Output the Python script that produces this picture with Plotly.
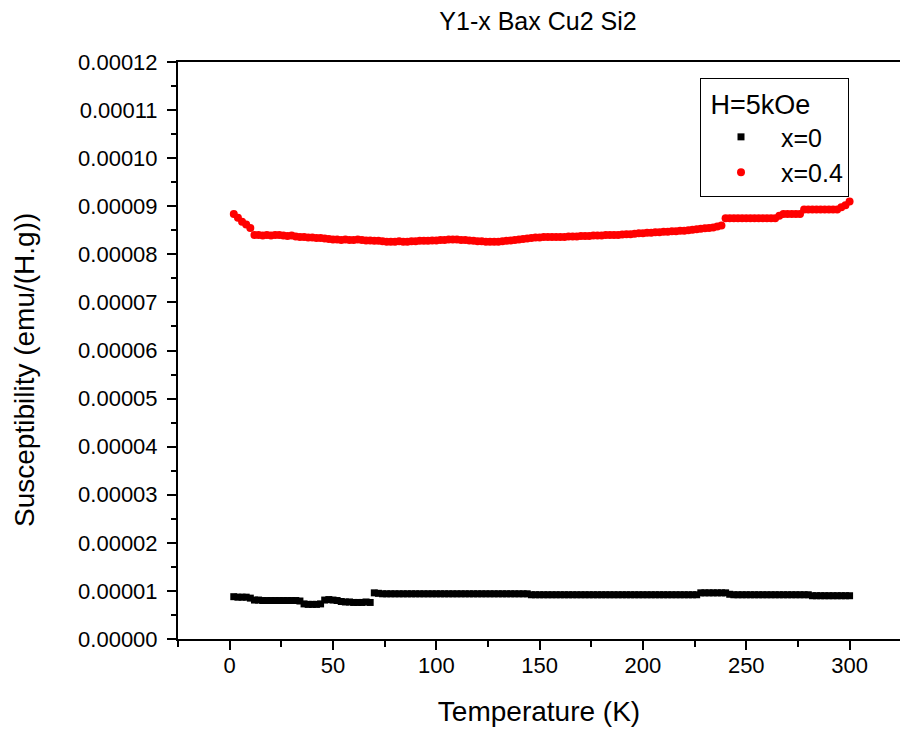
import plotly.graph_objects as go

temperature = [
    2, 4, 6, 8, 10, 12, 14, 16, 18, 20,
    22, 24, 26, 28, 30, 32, 34, 36, 38, 40,
    42, 44, 46, 48, 50, 52, 54, 56, 58, 60,
    62, 64, 66, 68, 70, 72, 74, 76, 78, 80,
    82, 84, 86, 88, 90, 92, 94, 96, 98, 100,
    102, 104, 106, 108, 110, 112, 114, 116, 118, 120,
    122, 124, 126, 128, 130, 132, 134, 136, 138, 140,
    142, 144, 146, 148, 150, 152, 154, 156, 158, 160,
    162, 164, 166, 168, 170, 172, 174, 176, 178, 180,
    182, 184, 186, 188, 190, 192, 194, 196, 198, 200,
    202, 204, 206, 208, 210, 212, 214, 216, 218, 220,
    222, 224, 226, 228, 230, 232, 234, 236, 238, 240,
    242, 244, 246, 248, 250, 252, 254, 256, 258, 260,
    262, 264, 266, 268, 270, 272, 274, 276, 278, 280,
    282, 284, 286, 288, 290, 292, 294, 296, 298, 300,
]

# susceptibility in units of 1e-5 emu/(H.g)
chi_x0_e5 = [
    0.88, 0.87, 0.87, 0.87, 0.85, 0.81, 0.81, 0.80, 0.80, 0.80,
    0.80, 0.80, 0.80, 0.80, 0.80, 0.80, 0.79, 0.73, 0.72, 0.72,
    0.72, 0.73, 0.81, 0.82, 0.81, 0.80, 0.78, 0.77, 0.77, 0.76,
    0.76, 0.76, 0.77, 0.76, 0.96, 0.95, 0.94, 0.94, 0.94, 0.94,
    0.94, 0.94, 0.94, 0.94, 0.94, 0.94, 0.94, 0.94, 0.94, 0.94,
    0.94, 0.94, 0.94, 0.94, 0.94, 0.94, 0.94, 0.94, 0.94, 0.94,
    0.94, 0.94, 0.94, 0.94, 0.94, 0.94, 0.94, 0.94, 0.94, 0.94,
    0.94, 0.94, 0.92, 0.92, 0.92, 0.92, 0.92, 0.92, 0.92, 0.92,
    0.92, 0.92, 0.92, 0.92, 0.92, 0.92, 0.92, 0.92, 0.92, 0.92,
    0.92, 0.92, 0.92, 0.92, 0.92, 0.92, 0.92, 0.92, 0.92, 0.92,
    0.92, 0.92, 0.92, 0.92, 0.92, 0.92, 0.92, 0.92, 0.92, 0.92,
    0.92, 0.92, 0.92, 0.96, 0.96, 0.96, 0.96, 0.96, 0.96, 0.96,
    0.93, 0.92, 0.92, 0.92, 0.92, 0.92, 0.92, 0.92, 0.92, 0.92,
    0.92, 0.92, 0.92, 0.92, 0.92, 0.92, 0.92, 0.92, 0.92, 0.92,
    0.90, 0.90, 0.90, 0.90, 0.90, 0.90, 0.90, 0.90, 0.90, 0.90,
]

chi_x04_e5 = [
    8.84, 8.76, 8.68, 8.62, 8.55, 8.40, 8.40, 8.39, 8.40, 8.39,
    8.40, 8.40, 8.39, 8.38, 8.39, 8.37, 8.36, 8.36, 8.35, 8.35,
    8.34, 8.34, 8.33, 8.32, 8.31, 8.31, 8.30, 8.31, 8.30, 8.30,
    8.31, 8.30, 8.29, 8.29, 8.28, 8.28, 8.27, 8.26, 8.26, 8.26,
    8.27, 8.26, 8.26, 8.27, 8.27, 8.28, 8.28, 8.28, 8.29, 8.29,
    8.30, 8.30, 8.31, 8.31, 8.31, 8.30, 8.30, 8.29, 8.28, 8.27,
    8.27, 8.26, 8.26, 8.26, 8.26, 8.27, 8.28, 8.29, 8.30, 8.31,
    8.32, 8.33, 8.34, 8.35, 8.35, 8.36, 8.36, 8.36, 8.36, 8.36,
    8.36, 8.37, 8.37, 8.37, 8.38, 8.38, 8.38, 8.39, 8.39, 8.39,
    8.40, 8.40, 8.40, 8.40, 8.41, 8.42, 8.42, 8.43, 8.44, 8.44,
    8.45, 8.45, 8.46, 8.46, 8.47, 8.47, 8.48, 8.48, 8.49, 8.49,
    8.50, 8.51, 8.52, 8.53, 8.54, 8.55, 8.56, 8.58, 8.60, 8.75,
    8.75, 8.75, 8.75, 8.75, 8.75, 8.75, 8.75, 8.75, 8.75, 8.75,
    8.75, 8.75, 8.80, 8.84, 8.84, 8.84, 8.84, 8.84, 8.93, 8.93,
    8.93, 8.93, 8.93, 8.93, 8.93, 8.93, 8.93, 8.98, 9.02, 9.10,
]

series_names = ["x=0", "x=0.4"]
series_colors = ["#000000", "#ff0000"]
y_tick_values = [0, 1e-5, 2e-5, 3e-5, 4e-5, 5e-5, 6e-5, 7e-5, 8e-5, 9e-5, 10e-5, 11e-5, 12e-5]
x_tick_values = [0, 50, 100, 150, 200, 250, 300]

FONT = "Liberation Sans, Arial, sans-serif"

fig = go.Figure()
fig.add_trace(go.Scatter(
    x=temperature, y=[v * 1e-5 for v in chi_x0_e5], mode="markers", name=series_names[0],
    marker=dict(symbol="square", size=7, color=series_colors[0], line=dict(width=0)),
))
fig.add_trace(go.Scatter(
    x=temperature, y=[v * 1e-5 for v in chi_x04_e5], mode="markers", name=series_names[1],
    marker=dict(symbol="circle", size=8, color=series_colors[1], line=dict(width=0)),
))

fig.update_layout(
    width=901, height=732,
    paper_bgcolor="white", plot_bgcolor="white",
    margin=dict(l=178, r=1, t=62, b=93, autoexpand=False),
    font=dict(family=FONT, color="#000000", size=20),
    title=dict(text="Y1-x Bax Cu2 Si2", x=538 / 901, xanchor="center", xref="container",
               y=1 - 21 / 732, yanchor="middle", font=dict(size=25, family=FONT)),
    legend=dict(
        title=dict(text="\u00a0H=5kOe", font=dict(size=27)),
        x=(700 - 178) / 722, y=(639 - 78) / 577, xanchor="left", yanchor="top",
        bordercolor="#000000", borderwidth=1, bgcolor="white",
        font=dict(size=25), itemwidth=70,
    ),
    showlegend=True,
    annotations=[dict(
        text="Susceptibility (emu/(H.g))", textangle=-90,
        xref="paper", yref="paper", x=(25 - 178) / 722, y=(639 - 370) / 577,
        xanchor="center", yanchor="middle", showarrow=False,
        font=dict(size=28, family=FONT, color="#000000"),
    )],
)

fig.update_xaxes(
    range=[-25, 324.4], showgrid=False, zeroline=False, automargin=False,
    showline=True, linecolor="#000000", linewidth=2, mirror=True,
    ticks="outside", ticklen=9, tickwidth=2, tickcolor="#000000",
    tickvals=x_tick_values, tickfont=dict(size=22), ticklabelstandoff=-3,
    minor=dict(dtick=25, tick0=-25, ticks="outside", ticklen=6, tickwidth=2, tickcolor="#000000", showgrid=False),
    title=dict(text="Temperature (K)", font=dict(size=28), standoff=24),
)
fig.update_yaxes(
    range=[0, 0.00012], showgrid=False, zeroline=False, automargin=False,
    showline=True, linecolor="#000000", linewidth=2, mirror=False,
    ticks="outside", ticklen=9, tickwidth=2, tickcolor="#000000",
    tickvals=y_tick_values, tickformat=".5f", tickfont=dict(size=22),
    ticklabelstandoff=5,
    minor=dict(dtick=0.5e-5, tick0=0, ticks="outside", ticklen=5, tickwidth=2, tickcolor="#000000", showgrid=False),
)

fig.write_html(
    "out.html",
    config={"displayModeBar": False},
    post_script="document.body.style.margin='0';document.body.style.overflow='hidden';",
)
